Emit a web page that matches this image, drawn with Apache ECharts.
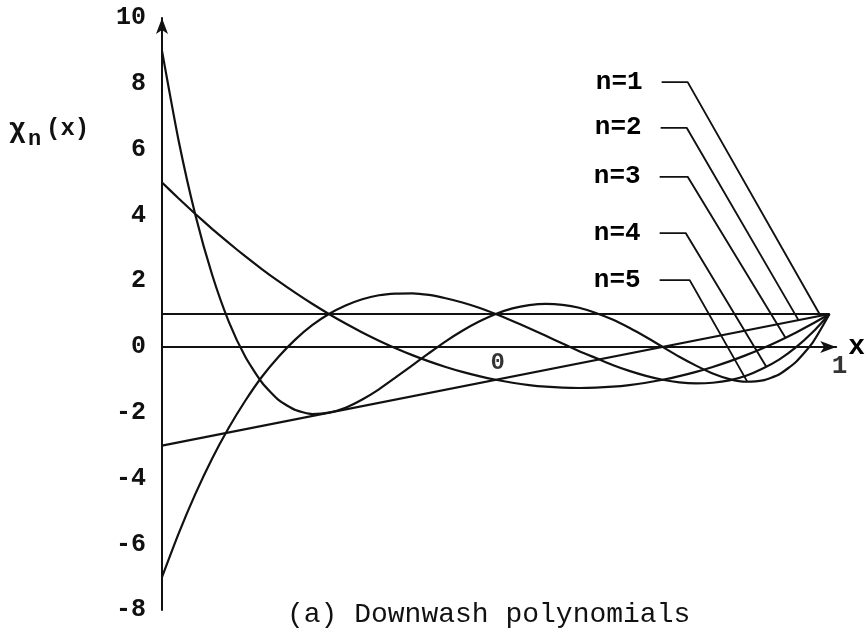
<!DOCTYPE html>
<html>
<head>
<meta charset="utf-8">
<script src="https://cdn.jsdelivr.net/npm/echarts@6/dist/echarts.min.js"></script>
<style>html,body{margin:0;padding:0;background:#fff;}#chart{width:868px;height:636px;}</style>
</head>
<body>
<div id="chart"></div>
<script>
// x sample positions
const xs = [-1,-0.95,-0.9,-0.85,-0.8,-0.75,-0.7,-0.65,-0.6,-0.55,-0.5,-0.45,-0.4,-0.35,-0.3,-0.25,-0.2,-0.15,-0.1,-0.05,
            0,0.05,0.1,0.15,0.2,0.25,0.3,0.35,0.4,0.45,0.5,0.55,0.6,0.65,0.7,0.75,0.8,0.85,0.9,0.95,1];
// chi_n(x) values
const chi1X = [-1, 1];
const chi1 = [1, 1];
const chi2X = [-1, 1];
const chi2 = [-3, 1];
const chi3 = [5,4.51,4.04,3.59,3.16,2.75,2.36,1.99,1.64,1.31,1,0.71,0.44,0.19,-0.04,-0.25,-0.44,-0.61,-0.76,-0.89,
              -1,-1.09,-1.16,-1.21,-1.24,-1.25,-1.24,-1.21,-1.16,-1.09,-1,-0.89,-0.76,-0.61,-0.44,-0.25,-0.04,0.19,0.44,0.71,1];
const chi4 = [-7,-5.67,-4.47,-3.40,-2.46,-1.63,-0.90,-0.29,0.23,0.66,1,1.26,1.45,1.57,1.62,1.63,1.58,1.48,1.35,1.19,
              1,0.79,0.57,0.34,0.10,-0.13,-0.34,-0.55,-0.73,-0.88,-1,-1.08,-1.11,-1.09,-1.02,-0.88,-0.66,-0.38,-0.01,0.45,1];
const chi5 = [9,6.26,4.01,2.20,0.77,-0.31,-1.09,-1.62,-1.92,-2.04,-2,-1.85,-1.60,-1.29,-0.93,-0.56,-0.19,0.17,0.49,0.77,
              1,1.17,1.27,1.31,1.28,1.19,1.03,0.83,0.58,0.30,0,-0.30,-0.57,-0.81,-0.98,-1.06,-1.02,-0.83,-0.45,0.14,1];

// leader lines for the n=k labels (data coordinates)
const leaderNames = ['n=1','n=2','n=3','n=4','n=5'];
const leaderY = [8.05, 6.66, 5.17, 3.46, 2.03];
const leaderX0 = [0.497, 0.494, 0.491, 0.491, 0.491];
const leaderX1 = [0.575, 0.572, 0.575, 0.569, 0.581];
const leaderEndX = [0.970, 0.907, 0.868, 0.811, 0.754];
const leaderEndY = [1.0, 0.814, 0.278, -0.608, -1.064];

// x-axis tick labels shown in the reference
const xTickLabels = ['0', '1'];
const xTickValues = [0, 1];

const yTicks = {min: -8, max: 10, interval: 2};

const ink = '#111';
const mono = '"Liberation Mono", "Courier New", monospace';

function pairs(xArr, yArr) { return xArr.map((x, i) => [x, yArr[i]]); }

const curveSeries = [
  pairs(chi1X, chi1), pairs(chi2X, chi2), pairs(xs, chi3), pairs(xs, chi4), pairs(xs, chi5)
].map((d, i) => ({
  type: 'line', data: d, smooth: i >= 2 ? 0.2 : false, symbol: 'none',
  lineStyle: {color: ink, width: 2.2}, z: 3
}));

const leaderSeries = leaderNames.map((nm, i) => ({
  type: 'line', symbol: 'none',
  data: [[leaderX0[i], leaderY[i]], [leaderX1[i], leaderY[i]], [leaderEndX[i], leaderEndY[i]]],
  lineStyle: {color: ink, width: 1.9}, z: 3
}));

const labelSeries = {
  type: 'scatter', symbol: 'circle', symbolSize: 0,
  itemStyle: {color: ink},
  data: leaderNames.map((nm, i) => ({name: nm, value: [leaderX0[i], leaderY[i]]})),
  label: {
    show: true, position: 'left', distance: 19, formatter: p => p.name,
    fontFamily: mono, fontWeight: 'bold', fontSize: 26, color: '#000', textBorderWidth: 0, opacity: 1
  },
  emphasis: {disabled: true},
  z: 4
};

const xTickSeries = {
  type: 'scatter', symbol: 'circle', symbolSize: 0,
  itemStyle: {color: ink},
  data: xTickLabels.map((t, i) => ({
    name: t, value: [xTickValues[i], 0],
    label: i === 0 ? {offset: [2, 0], fontWeight: 'bold', fontSize: 24} : {offset: [10, 3], fontWeight: 'bold', fontSize: 26}
  })),
  label: {
    show: true, position: 'bottom', distance: 4, formatter: p => p.name,
    fontFamily: mono, color: '#000', textBorderWidth: 0
  },
  emphasis: {disabled: true},
  z: 4
};

const chart = echarts.init(document.getElementById('chart'), null, {renderer: 'canvas'});
chart.setOption({
  animation: false,
  backgroundColor: '#fff',
  grid: {left: 162, right: 31, top: 18, bottom: 26, containLabel: false},
  xAxis: {
    type: 'value', min: -1, max: 1.02, interval: 1,
    axisLine: {show: true, onZero: true, symbol: ['none', 'arrow'], symbolSize: [9, 16], lineStyle: {color: ink, width: 2}},
    axisTick: {show: false}, splitLine: {show: false},
    axisLabel: {show: false},
    name: 'x', nameLocation: 'end', nameGap: 12,
    nameTextStyle: {fontFamily: mono, fontSize: 28, fontWeight: 'bold', color: '#000', padding: [0, 0, 0, 0]}
  },
  yAxis: {
    type: 'value', min: yTicks.min, max: yTicks.max, interval: yTicks.interval,
    axisLine: {show: true, onZero: false, symbol: ['none', 'arrow'], symbolSize: [9, 16], lineStyle: {color: ink, width: 2}},
    axisTick: {show: false}, splitLine: {show: false},
    axisLabel: {margin: 16, fontFamily: mono, fontSize: 25, fontWeight: 'bold', color: ink}
  },
  graphic: [
    {type: 'text', left: 9, top: 116, style: {text: 'χ', font: 'bold 28px ' + mono, fill: ink}},
    {type: 'text', left: 28, top: 128, style: {text: 'n', font: 'bold 22px ' + mono, fill: ink}},
    {type: 'text', left: 46, top: 117, style: {text: '(x)', font: 'bold 24px ' + mono, fill: ink}},
    {type: 'text', left: 287, top: 601, style: {text: '(a) Downwash polynomials', font: '28px ' + mono, fill: ink}}
  ],
  series: curveSeries.concat(leaderSeries, [labelSeries, xTickSeries])
});
</script>
</body>
</html>
